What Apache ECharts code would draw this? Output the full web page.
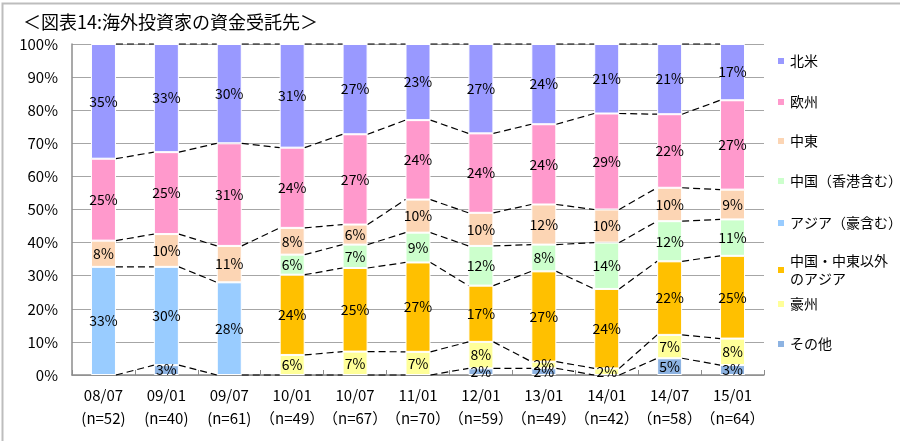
<!DOCTYPE html>
<html><head><meta charset="utf-8">
<script src="https://cdn.jsdelivr.net/npm/echarts@6/dist/echarts.min.js"></script>
<style>html,body{margin:0;padding:0;background:#fff}#c{width:900px;height:441px}</style>
</head><body><div id="c"></div>
<script>
const categories = ['08/07','09/01','09/07','10/01','10/07','11/01','12/01','13/01','14/01','14/07','15/01'];
const sampleLabels = ['(n=52)','(n=40)','(n=61)','（n=49）','（n=67）','（n=70）','（n=59）','（n=49）','（n=42）','（n=58）','（n=64）'];
const yTickLabels = ['0%','10%','20%','30%','40%','50%','60%','70%','80%','90%','100%'];
// series, bottom of stack first (null = no data)
const other       = [0, 3, 0, 0, 0, 0, 2, 2, 0, 5, 3];
const australia   = [null, null, null, 6, 7, 7, 8, 2, 2, 7, 8];
const asiaExChMe  = [null, null, null, 24, 25, 27, 17, 27, 24, 22, 25];
const asiaInclAus = [33, 30, 28, null, null, null, null, null, null, null, null];
const china       = [null, null, null, 6, 7, 9, 12, 8, 14, 12, 11];
const middleEast  = [8, 10, 11, 8, 6, 10, 10, 12, 10, 10, 9];
const europe      = [25, 25, 31, 24, 27, 24, 24, 24, 29, 22, 27];
const northAmerica= [35, 33, 30, 31, 27, 23, 27, 24, 21, 21, 17];

const seriesDefs = [
  {name:'その他', data: other, color:'#8DB3E2'},
  {name:'豪州', data: australia, color:'#FFFF99'},
  {name:'中国・中東以外のアジア', data: asiaExChMe, color:'#FFC000'},
  {name:'アジア（豪含む）', data: asiaInclAus, color:'#99CCFF'},
  {name:'中国（香港含む）', data: china, color:'#CCFFCC'},
  {name:'中東', data: middleEast, color:'#FCD5B4'},
  {name:'欧州', data: europe, color:'#FF99CC'},
  {name:'北米', data: northAmerica, color:'#9999FF'}
];

const totals = categories.map((c, i) => seriesDefs.reduce((s, d) => s + (d.data[i] || 0), 0));
const norm = seriesDefs.map(d => d.data.map((v, i) => (v || 0) / totals[i] * 100));
const cum = [];
norm.forEach((arr, s) => {
  cum.push(arr.map((v, i) => v + (s > 0 ? cum[s-1][i] : 0)));
});

const FONT = '"Noto Sans CJK JP", "Noto Sans", sans-serif';
const BW = 25;

const series = seriesDefs.map((d, s) => ({
  name: d.name,
  type: 'bar',
  stack: 'total',
  barWidth: BW,
  itemStyle: {color: d.color, borderColor: '#fff', borderWidth: 1},
  label: {show: true, position: 'inside', color: '#000', fontSize: 14, fontFamily: FONT,
          formatter: p => p.data.raw + '%'},
  data: d.data.map((v, i) => ({
    value: norm[s][i], raw: v,
    label: {show: !!v},
    itemStyle: v ? {} : {borderWidth: 0}
  })),
  z: 3
}));

series.push({
  type: 'custom',
  name: 'serieslines',
  silent: true,
  z: 2,
  clip: false,
  encode: {x: 0, y: 1},
  data: categories.slice(0, -1).map((c, i) => [i, 0]),
  renderItem: function (params, api) {
    const i = api.value(0);
    const children = [];
    seriesDefs.forEach((d, s) => {
      if (d.data[i] == null || d.data[i+1] == null) return;
      const p1 = api.coord([i, cum[s][i]]);
      const p2 = api.coord([i+1, cum[s][i+1]]);
      children.push({type: 'line', shape: {x1: p1[0] + BW/2, y1: p1[1], x2: p2[0] - BW/2, y2: p2[1]},
        style: {stroke: '#000', lineWidth: 1.2, lineDash: [7, 4]}});
    });
    return {type: 'group', children};
  }
});

const legendPos = [
  {name:'北米', top: 52},
  {name:'欧州', top: 93},
  {name:'中東', top: 132},
  {name:'中国（香港含む）', top: 172},
  {name:'アジア（豪含む）', top: 214},
  {name:'中国・中東以外のアジア', top: 252},
  {name:'豪州', top: 295},
  {name:'その他', top: 335}
];
const legends = legendPos.map(l => ({
  data: [l.name], left: 776, top: l.top, orient: 'vertical',
  itemWidth: 8, itemHeight: 8, itemGap: 0, padding: 0,
  icon: 'rect', selectedMode: false,
  textStyle: {fontSize: 14, fontFamily: FONT, color: '#000', lineHeight: 18},
  formatter: n => n === '中国・中東以外のアジア' ? '中国・中東以外\nのアジア' : n
}));

const chart = echarts.init(document.getElementById('c'), null, {renderer: 'canvas'});
chart.setOption({
  animation: false,
  backgroundColor: '#fff',
  title: {text: '＜図表14:海外投資家の資金受託先＞', left: 18, top: 8,
    textStyle: {fontSize: 18, fontWeight: 'normal', color: '#000', fontFamily: FONT}},
  legend: legends,
  grid: {left: 72, right: 136, top: 44, bottom: 66, containLabel: false},
  xAxis: {
    type: 'category', data: categories,
    axisLine: {lineStyle: {color: '#8C8C8C', width: 1.5}},
    axisTick: {show: true, inside: true, length: 5, interval: 0, lineStyle: {color: '#8C8C8C'}},
    axisLabel: {color: '#000', fontSize: 15, fontFamily: FONT, lineHeight: 23, margin: 9, interval: 0,
      formatter: (v, i) => v + '\n' + sampleLabels[i]}
  },
  yAxis: {
    type: 'value', min: 0, max: 100, interval: 10,
    axisLine: {show: true, lineStyle: {color: '#8C8C8C', width: 1.5}},
    axisTick: {show: false},
    splitLine: {lineStyle: {color: '#A6A6A6', width: 1}},
    axisLabel: {color: '#000', fontSize: 15, fontFamily: FONT, margin: 14,
      formatter: v => yTickLabels[Math.round(v / 10)]}
  },
  graphic: [{type: 'rect', shape: {x: 2.5, y: 3.5, width: 1000, height: 1000},
    style: {fill: 'none', stroke: '#BDBDBD', lineWidth: 2}, silent: true, z: -1}],
  series: series
});
</script>
</body></html>
